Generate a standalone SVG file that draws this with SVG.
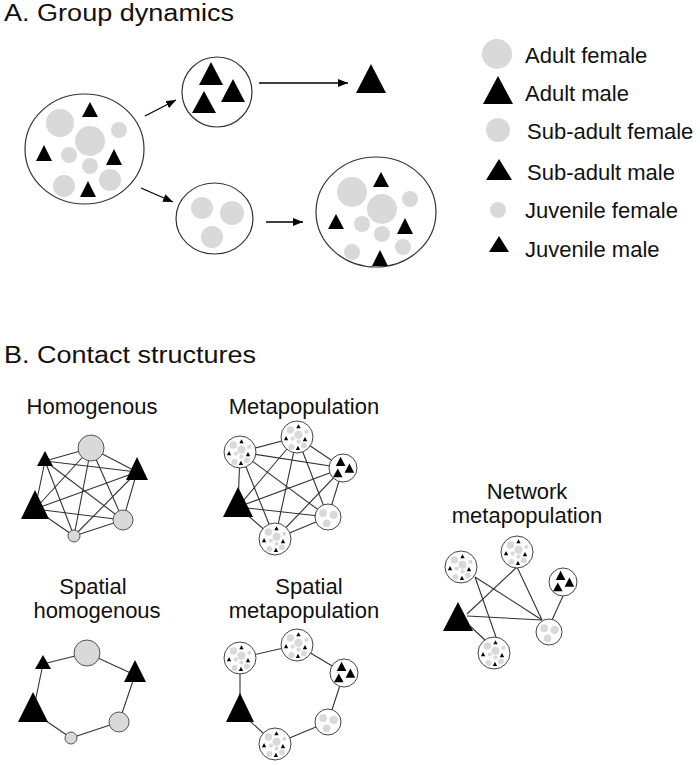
<svg xmlns="http://www.w3.org/2000/svg" xmlns:xlink="http://www.w3.org/1999/xlink" width="700" height="765" viewBox="0 0 700 765">
<style>
text{font-family:"Liberation Sans",Arial,sans-serif;fill:#111;}
.title{font-size:23px;}
.leg{font-size:22px;}
.lab{font-size:22px;text-anchor:middle;}
.g{fill:#d9d9d9;}
.t{fill:#000;}
.out{fill:#fff;stroke:#333;stroke-width:1.2;}
.sub{fill:#fff;stroke:#444;stroke-width:1;}
.hc{fill:#d9d9d9;stroke:#555;stroke-width:1;}
.e{stroke:#333;stroke-width:1.1;fill:none;}
.arr{stroke:#000;stroke-width:1.3;fill:none;marker-end:url(#ah);}
</style>
<defs>
<marker id="ah" markerWidth="10" markerHeight="8" refX="10" refY="4" orient="auto" markerUnits="userSpaceOnUse">
<path d="M0,0 L10,4 L0,8 Z" fill="#000"/>
</marker>
<g id="mix">
<circle class="g" cx="60" cy="123" r="14"/>
<circle class="g" cx="90" cy="141" r="15"/>
<circle class="g" cx="119" cy="130" r="8"/>
<circle class="g" cx="69" cy="155" r="8"/>
<circle class="g" cx="90" cy="166" r="8"/>
<circle class="g" cx="110" cy="180" r="11"/>
<circle class="g" cx="64" cy="186" r="11"/>
<path class="t" d="M90,102 L98,117 L82,117 Z"/>
<path class="t" d="M44,145 L52,161 L36,161 Z"/>
<path class="t" d="M114,149 L122,165 L106,165 Z"/>
<path class="t" d="M88,181 L96,197 L80,197 Z"/>
</g>
<g id="males">
<path class="t" d="M211,62 L223,85 L199,85 Z"/>
<path class="t" d="M233,79 L245,102 L221,102 Z"/>
<path class="t" d="M204,91 L216,113 L192,113 Z"/>
</g>
<g id="fems">
<circle class="g" cx="202" cy="208" r="11"/>
<circle class="g" cx="232" cy="213" r="12"/>
<circle class="g" cx="212" cy="237" r="11"/>
</g>
</defs>

<text class="title" x="4" y="21" textLength="230" lengthAdjust="spacingAndGlyphs">A. Group dynamics</text>
<text class="title" x="4" y="363" textLength="252" lengthAdjust="spacingAndGlyphs">B. Contact structures</text>

<g id="connectors-A">
<line class="arr" x1="145" y1="116" x2="176" y2="100"/>
<line class="arr" x1="141" y1="188" x2="173" y2="202"/>
<line class="arr" x1="259" y1="83" x2="348" y2="83"/>
<line class="arr" x1="266" y1="222" x2="303" y2="222"/>
</g>

<g id="group-mixed">
<ellipse class="out" cx="84.5" cy="149" rx="59.5" ry="55"/>
<use xlink:href="#mix" href="#mix"/>
</g>
<g id="group-males">
<ellipse class="out" cx="217" cy="92" rx="35" ry="35"/>
<use xlink:href="#males" href="#males"/>
</g>
<g id="group-females">
<ellipse class="out" cx="214.5" cy="218.5" rx="38.5" ry="35.5"/>
<use xlink:href="#fems" href="#fems"/>
</g>
<g id="lone-male">
<path class="t" d="M371,64 L386,93 L356,93 Z"/>
</g>
<g id="group-new">
<ellipse class="out" cx="376" cy="212" rx="60" ry="55"/>
<circle class="g" cx="352" cy="192" r="15"/>
<circle class="g" cx="410" cy="199" r="8"/>
<circle class="g" cx="382" cy="209" r="15"/>
<circle class="g" cx="362" cy="224" r="8"/>
<circle class="g" cx="382" cy="234" r="8"/>
<circle class="g" cx="403" cy="247" r="8"/>
<circle class="g" cx="352" cy="252" r="8"/>
<path class="t" d="M381,172 L389,187 L373,187 Z"/>
<path class="t" d="M336,214 L344,229 L328,229 Z"/>
<path class="t" d="M405,218 L413,234 L397,234 Z"/>
<path class="t" d="M380,250 L388,266 L372,266 Z"/>
</g>

<g id="legend">
<circle class="g" cx="497" cy="54" r="15"/>
<path class="t" d="M498,76 L513,104 L483,104 Z"/>
<circle class="g" cx="498" cy="130" r="12"/>
<path class="t" d="M499,159 L512,180 L486,180 Z"/>
<circle class="g" cx="498" cy="210" r="8"/>
<path class="t" d="M499,236 L509,252 L489,252 Z"/>
<text class="leg" x="525" y="63">Adult female</text>
<text class="leg" x="525" y="101">Adult male</text>
<text class="leg" x="527" y="139">Sub-adult female</text>
<text class="leg" x="527" y="180">Sub-adult male</text>
<text class="leg" x="525" y="218">Juvenile female</text>
<text class="leg" x="525" y="257">Juvenile male</text>
</g>

<g id="labels-B">
<text class="lab" x="92" y="414">Homogenous</text>
<text class="lab" x="304" y="414">Metapopulation</text>
<text class="lab" x="93" y="594">Spatial</text>
<text class="lab" x="97" y="618">homogenous</text>
<text class="lab" x="309" y="594">Spatial</text>
<text class="lab" x="304" y="618">metapopulation</text>
<text class="lab" x="527" y="499">Network</text>
<text class="lab" x="527" y="523">metapopulation</text>
</g>

<g id="connectors-B">
<g>
<line class="e" x1="91" y1="448" x2="45" y2="461"/>
<line class="e" x1="91" y1="448" x2="137" y2="472"/>
<line class="e" x1="91" y1="448" x2="35" y2="509"/>
<line class="e" x1="91" y1="448" x2="123" y2="520"/>
<line class="e" x1="91" y1="448" x2="74" y2="536"/>
<line class="e" x1="45" y1="461" x2="137" y2="472"/>
<line class="e" x1="45" y1="461" x2="35" y2="509"/>
<line class="e" x1="45" y1="461" x2="123" y2="520"/>
<line class="e" x1="45" y1="461" x2="74" y2="536"/>
<line class="e" x1="137" y1="472" x2="35" y2="509"/>
<line class="e" x1="137" y1="472" x2="123" y2="520"/>
<line class="e" x1="137" y1="472" x2="74" y2="536"/>
<line class="e" x1="35" y1="509" x2="123" y2="520"/>
<line class="e" x1="35" y1="509" x2="74" y2="536"/>
<line class="e" x1="123" y1="520" x2="74" y2="536"/>
</g>
<g>
<line class="e" x1="240" y1="452" x2="297" y2="437"/>
<line class="e" x1="240" y1="452" x2="343" y2="468"/>
<line class="e" x1="240" y1="452" x2="238" y2="507"/>
<line class="e" x1="240" y1="452" x2="328" y2="517"/>
<line class="e" x1="240" y1="452" x2="275" y2="539"/>
<line class="e" x1="297" y1="437" x2="343" y2="468"/>
<line class="e" x1="297" y1="437" x2="238" y2="507"/>
<line class="e" x1="297" y1="437" x2="328" y2="517"/>
<line class="e" x1="297" y1="437" x2="275" y2="539"/>
<line class="e" x1="343" y1="468" x2="238" y2="507"/>
<line class="e" x1="343" y1="468" x2="328" y2="517"/>
<line class="e" x1="343" y1="468" x2="275" y2="539"/>
<line class="e" x1="238" y1="507" x2="328" y2="517"/>
<line class="e" x1="238" y1="507" x2="275" y2="539"/>
<line class="e" x1="328" y1="517" x2="275" y2="539"/>
</g>
<g>
<line class="e" x1="43" y1="664" x2="87" y2="653"/>
<line class="e" x1="87" y1="653" x2="135" y2="675"/>
<line class="e" x1="135" y1="675" x2="119" y2="722"/>
<line class="e" x1="119" y1="722" x2="71" y2="738"/>
<line class="e" x1="71" y1="738" x2="33" y2="712"/>
<line class="e" x1="33" y1="712" x2="43" y2="664"/>
</g>
<g>
<line class="e" x1="240" y1="658" x2="297" y2="645"/>
<line class="e" x1="297" y1="645" x2="344" y2="673"/>
<line class="e" x1="344" y1="673" x2="328" y2="722"/>
<line class="e" x1="328" y1="722" x2="275" y2="744"/>
<line class="e" x1="275" y1="744" x2="240" y2="712"/>
<line class="e" x1="240" y1="712" x2="240" y2="658"/>
</g>
<g>
<line class="e" x1="475" y1="577" x2="497" y2="640"/>
<line class="e" x1="475" y1="577" x2="542" y2="620"/>
<line class="e" x1="517" y1="567" x2="467" y2="614"/>
<line class="e" x1="517" y1="567" x2="542" y2="620"/>
<line class="e" x1="467" y1="616" x2="542" y2="620"/>
<line class="e" x1="470" y1="626" x2="485" y2="640"/>
<line class="e" x1="563" y1="596" x2="552" y2="620"/>
</g>
</g>

<g id="hom-c1"><circle class="hc" cx="91" cy="448" r="13"/></g>
<g id="hom-t1"><path class="t" d="M45,451 L53,466 L37,466 Z"/></g>
<g id="hom-t2"><path class="t" d="M137,457 L148,480 L126,480 Z"/></g>
<g id="hom-t3"><path class="t" d="M35,490 L49,519 L21,519 Z"/></g>
<g id="hom-c2"><circle class="hc" cx="123" cy="520" r="10"/></g>
<g id="hom-c3"><circle class="hc" cx="74" cy="536" r="6"/></g>

<g id="sh-c1"><circle class="hc" cx="87" cy="653" r="13"/></g>
<g id="sh-t1"><path class="t" d="M43,655 L51,669 L35,669 Z"/></g>
<g id="sh-t2"><path class="t" d="M135,660 L146,682 L124,682 Z"/></g>
<g id="sh-t3"><path class="t" d="M33,692 L48,722 L18,722 Z"/></g>
<g id="sh-c2"><circle class="hc" cx="119" cy="722" r="10"/></g>
<g id="sh-c3"><circle class="hc" cx="71" cy="738" r="6"/></g>

<g id="meta-1"><circle class="sub" cx="240" cy="452" r="16"/><use xlink:href="#mix" href="#mix" transform="translate(240,452) scale(0.27) translate(-84.5,-149)"/></g>
<g id="meta-2"><circle class="sub" cx="297" cy="437" r="16"/><use xlink:href="#mix" href="#mix" transform="translate(297,437) scale(0.27) translate(-84.5,-149)"/></g>
<g id="meta-3"><circle class="sub" cx="343" cy="468" r="14"/><use xlink:href="#males" href="#males" transform="translate(343,468) scale(0.4) translate(-217,-90)"/></g>
<g id="meta-4"><path class="t" d="M238,487 L253,517 L223,517 Z"/></g>
<g id="meta-5"><circle class="sub" cx="328" cy="517" r="13"/><use xlink:href="#fems" href="#fems" transform="translate(328,517) scale(0.35) translate(-216,-219)"/></g>
<g id="meta-6"><circle class="sub" cx="275" cy="539" r="16"/><use xlink:href="#mix" href="#mix" transform="translate(275,539) scale(0.27) translate(-84.5,-149)"/></g>

<g id="smeta-1"><circle class="sub" cx="240" cy="658" r="16"/><use xlink:href="#mix" href="#mix" transform="translate(240,658) scale(0.27) translate(-84.5,-149)"/></g>
<g id="smeta-2"><circle class="sub" cx="297" cy="645" r="16"/><use xlink:href="#mix" href="#mix" transform="translate(297,645) scale(0.27) translate(-84.5,-149)"/></g>
<g id="smeta-3"><circle class="sub" cx="344" cy="673" r="14"/><use xlink:href="#males" href="#males" transform="translate(344,673) scale(0.4) translate(-217,-90)"/></g>
<g id="smeta-4"><path class="t" d="M240,693 L254,722 L226,722 Z"/></g>
<g id="smeta-5"><circle class="sub" cx="328" cy="722" r="13"/><use xlink:href="#fems" href="#fems" transform="translate(328,722) scale(0.35) translate(-216,-219)"/></g>
<g id="smeta-6"><circle class="sub" cx="275" cy="744" r="16"/><use xlink:href="#mix" href="#mix" transform="translate(275,744) scale(0.27) translate(-84.5,-149)"/></g>

<g id="net-1"><circle class="sub" cx="461" cy="567" r="16"/><use xlink:href="#mix" href="#mix" transform="translate(461,567) scale(0.27) translate(-84.5,-149)"/></g>
<g id="net-2"><circle class="sub" cx="517" cy="552" r="16"/><use xlink:href="#mix" href="#mix" transform="translate(517,552) scale(0.27) translate(-84.5,-149)"/></g>
<g id="net-3"><circle class="sub" cx="563" cy="582" r="14"/><use xlink:href="#males" href="#males" transform="translate(563,582) scale(0.4) translate(-217,-90)"/></g>
<g id="net-4"><path class="t" d="M458,602 L473,631 L443,631 Z"/></g>
<g id="net-5"><circle class="sub" cx="549" cy="632" r="13"/><use xlink:href="#fems" href="#fems" transform="translate(549,632) scale(0.35) translate(-216,-219)"/></g>
<g id="net-6"><circle class="sub" cx="494" cy="653" r="16"/><use xlink:href="#mix" href="#mix" transform="translate(494,653) scale(0.27) translate(-84.5,-149)"/></g>
</svg>
